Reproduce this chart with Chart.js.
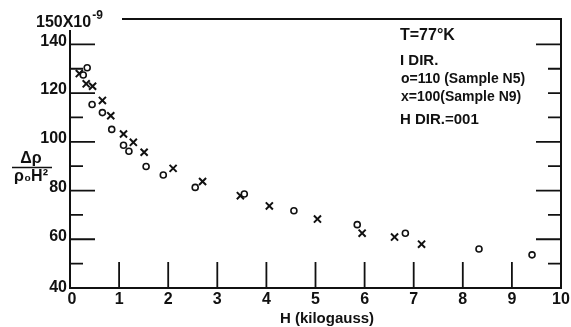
<!DOCTYPE html>
<html>
<head>
<meta charset="utf-8">
<script src="https://cdn.jsdelivr.net/npm/chart.js@4"></script>
<style>
html,body{margin:0;padding:0;background:#fff;}
#wrap{width:571px;height:327px;position:relative;}
</style>
</head>
<body>
<div id="wrap"><canvas id="c" width="571" height="327"></canvas></div>
<script>
// Data
const xTickLabels = ['0','1','2','3','4','5','6','7','8','9','10'];
const yTickLabels = ['40','60','80','100','120','140'];
const sampleN5_H = [0.27,0.35,0.45,0.66,0.85,1.09,1.2,1.55,1.9,2.55,3.55,4.56,5.85,6.83,8.33,9.41];
const sampleN5_R = [127.4,130.4,115.3,112,105.1,98.6,96.1,89.9,86.4,81.3,78.6,71.7,66,62.5,56,53.6];
const sampleN9_H = [0.19,0.33,0.46,0.66,0.83,1.09,1.29,1.51,2.1,2.7,3.47,4.06,5.04,5.95,6.61,7.16];
const sampleN9_R = [128,123.8,122.8,117,110.7,103.2,99.8,95.7,89.1,83.7,77.9,73.7,68.3,62.5,60.9,58];
const legendLines = ['T=77°K','I DIR.','o=110 (Sample N5)','x=100(Sample N9)','H DIR.=001'];

const ptsN5 = sampleN5_H.map((h,i)=>({x:h,y:sampleN5_R[i]}));
const ptsN9 = sampleN9_H.map((h,i)=>({x:h,y:sampleN9_R[i]}));

const FONT = '"Liberation Sans", Arial, sans-serif';

const framePlugin = {
  id:'frame',
  afterDraw(chart){
    const ctx = chart.ctx, xs = chart.scales.x, ys = chart.scales.y;
    const X = v=>xs.getPixelForValue(v), Y = v=>ys.getPixelForValue(v);
    const L = X(0), R = X(10), B = Y(40), T = Y(150);
    ctx.save();
    ctx.strokeStyle = '#111'; ctx.lineWidth = 2; ctx.lineCap='butt';
    ctx.beginPath();
    ctx.moveTo(L, T+10); ctx.lineTo(L, B);
    ctx.lineTo(R, B);
    ctx.lineTo(R, T-1);
    ctx.lineTo(122, T-1);
    ctx.stroke();
    ctx.lineWidth = 1.8;
    ctx.beginPath();
    for (let v=50; v<=140; v+=10){
      const major = (v%20===0);
      ctx.moveTo(L, Y(v)); ctx.lineTo(L + (major?25:13), Y(v));
    }
    const rightLong = [60,80,100,140];
    for (let v=50; v<=140; v+=10){
      const major = rightLong.includes(v);
      ctx.moveTo(R, Y(v)); ctx.lineTo(R - (major?25:13), Y(v));
    }
    for (let v=1; v<=9; v++){
      ctx.moveTo(X(v), B); ctx.lineTo(X(v), B-26);
    }
    ctx.stroke();

    ctx.fillStyle = '#111';
    ctx.font = 'bold 16px ' + FONT;
    ctx.textAlign = 'right'; ctx.textBaseline = 'middle';
    yTickLabels.forEach(t=>{
      const v = parseFloat(t);
      let yy = Y(v) - 3;
      if (v===40) yy = Y(v);
      ctx.fillText(t, L-3, yy);
    });
    // top label 150X10^-9
    ctx.textAlign='left';
    ctx.fillText('150X10', 36, 23);
    const w = ctx.measureText('150X10').width;
    ctx.font = 'bold 12px ' + FONT;
    ctx.fillText('-9', 36 + w + 1, 16);
    ctx.font = 'bold 16px ' + FONT;
    ctx.textAlign='center'; ctx.textBaseline='middle';
    xTickLabels.forEach(t=>{
      const v = parseFloat(t);
      ctx.fillText(t, X(v) + (v===0?2:0), 300);
    });
    ctx.font = 'bold 15px ' + FONT;
    ctx.fillText('H (kilogauss)', 327, 319);
    ctx.font = 'bold 16px ' + FONT;
    ctx.fillText('Δρ', 31, 159);
    ctx.beginPath(); ctx.lineWidth=1.6;
    ctx.moveTo(12,167.5); ctx.lineTo(52,167.5); ctx.stroke();
    ctx.fillText('ρ₀H²', 31, 177);
    ctx.textAlign='left';
    const lx = 400;
    ctx.font = 'bold 16px ' + FONT;
    ctx.fillText(legendLines[0], lx, 36);
    ctx.font = 'bold 15px ' + FONT;
    ctx.fillText(legendLines[1], lx, 61);
    ctx.font = 'bold 14px ' + FONT;
    ctx.fillText(legendLines[2], lx+1, 79);
    ctx.fillText(legendLines[3], lx+1, 97);
    ctx.font = 'bold 15px ' + FONT;
    ctx.fillText(legendLines[4], lx, 120);
    ctx.restore();
  }
};

new Chart(document.getElementById('c'), {
  type:'scatter',
  data:{
    datasets:[
      {label:'110 (Sample N5)', data:ptsN5, pointStyle:'circle', pointRadius:3, pointBorderWidth:1.6,
       borderColor:'#111', backgroundColor:'#fff', pointHoverRadius:3},
      {label:'100 (Sample N9)', data:ptsN9, pointStyle:'crossRot', pointRadius:5, pointBorderWidth:2,
       borderColor:'#111', backgroundColor:'#111', pointHoverRadius:5}
    ]
  },
  options:{
    responsive:false, animation:false,
    layout:{padding:{left:70,right:10,top:20,bottom:39}},
    plugins:{legend:{display:false}, tooltip:{enabled:false}},
    scales:{
      x:{type:'linear', min:0, max:10, display:false},
      y:{type:'linear', min:40, max:150, display:false}
    },
    events:[]
  },
  plugins:[framePlugin]
});
</script>
</body>
</html>
